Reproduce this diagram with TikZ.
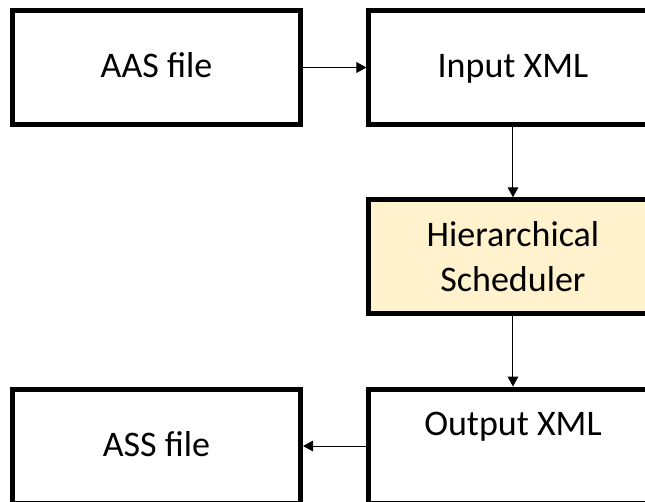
\documentclass[tikz,border=0pt]{standalone}
\usepackage{fontspec}
\setmainfont{Carlito}
\usepackage{xcolor}
\definecolor{schedfill}{HTML}{FFF2CC}
\usetikzlibrary{positioning,arrows.meta}

\begin{document}
\begin{tikzpicture}[
  node distance=52.7pt and 47.6pt,
  box/.style={draw=black, line width=3.75pt, fill=white,
              minimum width=216pt, minimum height=85.5pt,
              font=\fontsize{27}{33.75}\selectfont},
  txt/.style={text height=20pt, text depth=4.7pt},
  arr/.style={-{Triangle[width=8pt,length=7.5pt]}, line width=0.75pt}
]
  \useasboundingbox (-117.375pt,50.625pt) rectangle (366.375pt,-325.875pt);

  \node[box, txt] (aas) {AAS file};
  \node[box, txt, right=of aas]  (inp)   {Input XML};
  \node[box, fill=schedfill, align=center, below=of inp] (sched) {Hierarchical\\Scheduler};
  \node[box, text height=20pt, text depth=36.5pt, below=of sched] (out) {Output XML};
  \node[box, txt, left=of out] (ass) {ASS file};

  \draw[arr] (aas)   -- (inp);
  \draw[arr] (inp)   -- (sched);
  \draw[arr] (sched) -- (out);
  \draw[arr] (out)   -- (ass);
\end{tikzpicture}
\end{document}
